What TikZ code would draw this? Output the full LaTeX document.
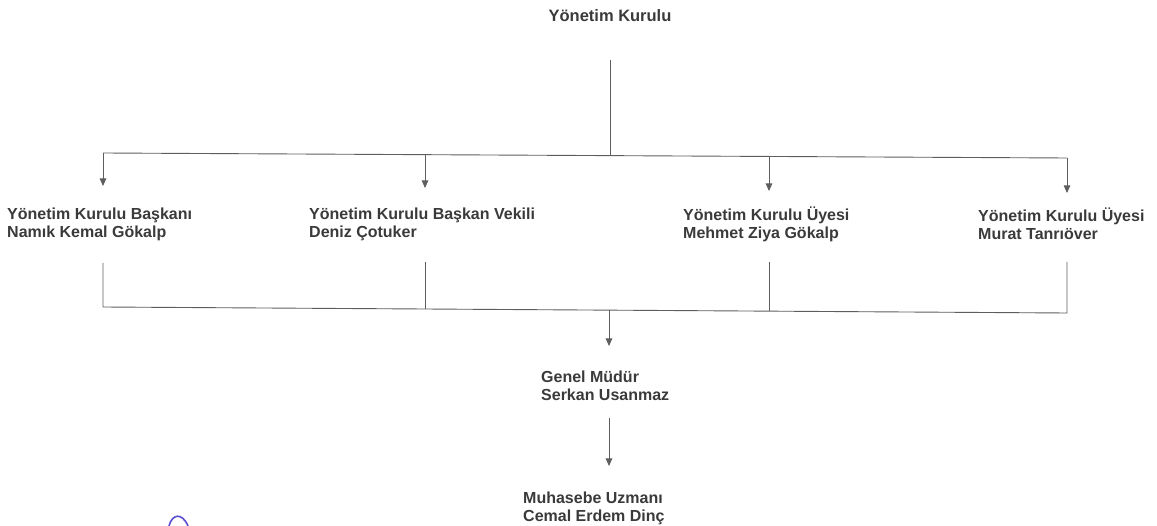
\documentclass[tikz,border=0pt]{standalone}
\usepackage{fontspec}
\setmainfont{Liberation Sans}
\usetikzlibrary{arrows.meta}
\definecolor{ink}{HTML}{3A3A3A}
\definecolor{wire}{HTML}{5E5E5E}
\definecolor{pen}{HTML}{5A4FCF}
\begin{document}
\begin{tikzpicture}[x=1pt,y=-1pt,
  lbl/.style={font=\fontsize{16}{18}\selectfont\bfseries, text=ink, inner sep=0pt, align=left, anchor=west},
  wireline/.style={draw=wire, line width=0.9pt},
  arr/.style={wireline, -{Triangle[width=6.5pt,length=7.5pt]}}]
\useasboundingbox (0,0) rectangle (1157,526);
% nodes
\node[lbl, anchor=center, font=\fontsize{16.5}{18}\selectfont\bfseries] (yk) at (610,16) {Yönetim Kurulu};
\node[lbl] (n1) at (7,224) {Yönetim Kurulu Başkanı\\Namık Kemal Gökalp};
\node[lbl] (n2) at (309,224) {Yönetim Kurulu Başkan Vekili\\Deniz Çotuker};
\node[lbl] (n3) at (683,224) {Yönetim Kurulu Üyesi\\Mehmet Ziya Gökalp};
\node[lbl] (n4) at (978,224) {Yönetim Kurulu Üyesi\\Murat Tanrıöver};
\node[lbl] (gm) at (541,385.5) {Genel Müdür\\Serkan Usanmaz};
\node[lbl] (mu) at (523,508) {Muhasebe Uzmanı\\Cemal Erdem Dinç};
% coordinates
\coordinate (ytop) at (610,60);
\coordinate (ybus) at (610,156);
\coordinate (t1) at (103,153);
\coordinate (t2) at (425,155);
\coordinate (t3) at (769,157);
\coordinate (t4) at (1067,158);
\coordinate (a1) at (103,186);
\coordinate (a2) at (425,188);
\coordinate (a3) at (769,191);
\coordinate (a4) at (1067,193);
\coordinate (b1) at (103,263);
\coordinate (b2) at (425,262);
\coordinate (b3) at (769,262);
\coordinate (b4) at (1067,262);
\coordinate (c1) at (103,307);
\coordinate (c2) at (425,309);
\coordinate (c3) at (769,311);
\coordinate (c4) at (1067,313);
\coordinate (gbus) at (609,310);
\coordinate (gtip) at (609,346);
\coordinate (mtop) at (609,418);
\coordinate (mtip) at (609,466);
% top tree
\draw[wireline] (ytop) -- (ybus);
\draw[wireline] (t1) -- (t4);
\draw[arr] (t1) -- (a1);
\draw[arr] (t2) -- (a2);
\draw[arr] (t3) -- (a3);
\draw[arr] (t4) -- (a4);
% bottom bracket
\draw[wireline] (b1) -- (c1) -- (c4) -- (b4);
\draw[wireline] (b2) -- (c2);
\draw[wireline] (b3) -- (c3);
\draw[arr] (gbus) -- (gtip);
\draw[arr] (mtop) -- (mtip);
% pen mark
\draw[pen, line width=1.6pt] (169,526) .. controls (172,514) and (182,512) .. (188,526);
\end{tikzpicture}
\end{document}
